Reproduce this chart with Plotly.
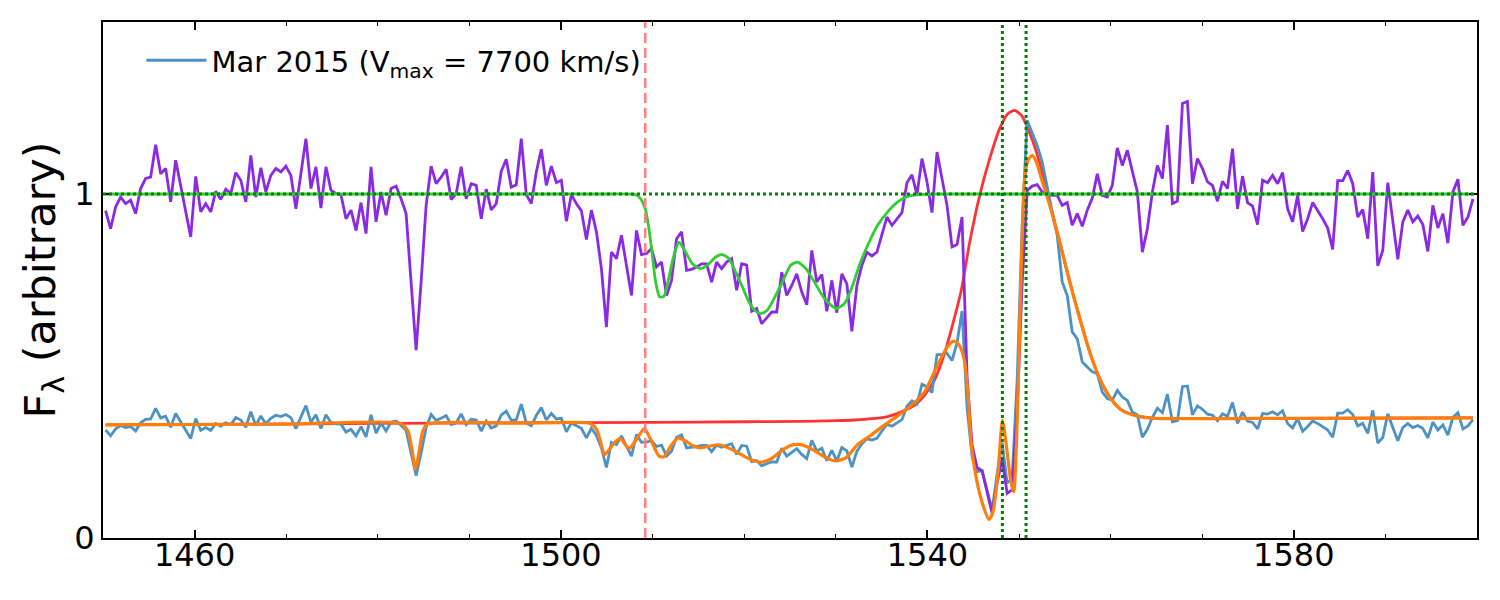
import numpy as np
import plotly.graph_objects as go

# ---------------- data ----------------
WAVE_START = 1450.28   # first wavelength bin (Angstrom)
WAVE_STEP = 0.5468     # bin width (Angstrom)

# observed spectrum (Mar 2015), arbitrary flux units
FLUX_OBS = [
    0.314, 0.297, 0.317, 0.327, 0.321, 0.324, 0.311, 0.335, 0.345, 0.346,
    0.377, 0.349, 0.354, 0.322, 0.362, 0.338, 0.314, 0.289, 0.347, 0.313,
    0.321, 0.313, 0.333, 0.325, 0.335, 0.330, 0.350, 0.343, 0.322, 0.367,
    0.327, 0.355, 0.332, 0.348,
    0.357, 0.353, 0.359, 0.350, 0.318, 0.350, 0.385, 0.337, 0.358, 0.318,
    0.358, 0.336, 0.332, 0.331, 0.308, 0.316, 0.297, 0.324, 0.294, 0.358,
    0.305, 0.334, 0.311, 0.337, 0.340, 0.327, 0.313, 0.247, 0.181, 0.247,
    0.321, 0.359, 0.342, 0.348, 0.356,
    0.330, 0.335, 0.361, 0.330, 0.345, 0.343, 0.311, 0.340, 0.320, 0.326,
    0.357, 0.369, 0.342, 0.344, 0.389, 0.334, 0.326, 0.356, 0.379, 0.343,
    0.362, 0.346, 0.348, 0.309, 0.334, 0.326, 0.319, 0.291, 0.319, 0.298,
    0.262, 0.205, 0.278, 0.272,
    0.297, 0.267, 0.238, 0.301, 0.278, 0.279, 0.283, 0.266, 0.270, 0.238,
    0.252, 0.293, 0.300, 0.262, 0.263, 0.266, 0.269, 0.269, 0.251, 0.270,
    0.264, 0.270, 0.274, 0.243, 0.269, 0.267, 0.222, 0.225, 0.210, 0.216,
    0.221, 0.221, 0.261, 0.238,
    0.249, 0.260, 0.243, 0.231, 0.284, 0.253, 0.261, 0.225, 0.255, 0.224,
    0.263, 0.253, 0.206, 0.252, 0.274, 0.288, 0.285, 0.290, 0.311, 0.330,
    0.325, 0.334, 0.344, 0.383, 0.399, 0.389, 0.447, 0.440, 0.423, 0.533,
    0.533, 0.537, 0.516, 0.567, 0.660,
    0.380, 0.236, 0.193, 0.196, 0.139, 0.081, 0.187, 0.277, 0.160, 0.174,
    0.459, 0.909, 1.214, 1.180, 1.141, 1.093, 1.016, 0.948, 0.880, 0.744,
    0.705, 0.599, 0.579, 0.512, 0.497, 0.483, 0.478, 0.424, 0.405, 0.400,
    0.429, 0.410, 0.400, 0.366,
    0.358, 0.293, 0.316, 0.351, 0.377, 0.364, 0.418, 0.338, 0.341, 0.440,
    0.442, 0.358, 0.384, 0.374, 0.360, 0.357, 0.341, 0.361, 0.354, 0.394,
    0.333, 0.366, 0.339, 0.336, 0.317, 0.362, 0.360, 0.367, 0.358, 0.370,
    0.333, 0.320, 0.347, 0.310,
    0.324, 0.340, 0.333, 0.324, 0.314, 0.293, 0.363, 0.363, 0.373, 0.359,
    0.326, 0.333, 0.304, 0.371, 0.276, 0.292, 0.361, 0.321, 0.283, 0.321,
    0.333, 0.321, 0.327, 0.318, 0.291, 0.337, 0.314, 0.329, 0.299, 0.351,
    0.364, 0.317, 0.326, 0.344,
]

# spectrum normalised by the emission model
FLUX_NORM = [
    0.952, 0.899, 0.962, 0.991, 0.972, 0.982, 0.943, 1.016, 1.045, 1.049,
    1.143, 1.059, 1.074, 0.977, 1.098, 1.025, 0.953, 0.875, 1.051, 0.948,
    0.972, 0.948, 1.008, 0.984, 1.014, 1.001, 1.062, 1.040, 0.977, 1.112,
    0.991, 1.076, 1.006, 1.054,
    1.074, 1.064, 1.081, 1.054, 0.957, 1.054, 1.161, 1.016, 1.079, 0.959,
    1.079, 1.011, 1.001, 0.998, 0.928, 0.953, 0.894, 0.975, 0.885, 1.079,
    0.919, 1.006, 0.938, 1.016, 1.023, 0.986, 0.943, 0.744, 0.546, 0.744,
    0.967, 1.081, 1.030, 1.049, 1.072,
    0.984, 1.001, 1.079, 0.986, 1.030, 1.025, 0.928, 1.014, 0.954, 0.972,
    1.066, 1.101, 1.020, 1.027, 1.161, 0.998, 0.972, 1.064, 1.130, 1.025,
    1.081, 1.033, 1.040, 0.921, 0.998, 0.972, 0.951, 0.868, 0.953, 0.890,
    0.783, 0.613, 0.831, 0.812,
    0.880, 0.793, 0.705, 0.894, 0.824, 0.827, 0.841, 0.788, 0.802, 0.705,
    0.749, 0.870, 0.890, 0.778, 0.781, 0.788, 0.797, 0.797, 0.744, 0.802,
    0.783, 0.802, 0.812, 0.720, 0.797, 0.793, 0.659, 0.667, 0.623, 0.640,
    0.657, 0.657, 0.773, 0.705,
    0.734, 0.768, 0.715, 0.678, 0.836, 0.744, 0.766, 0.659, 0.749, 0.655,
    0.768, 0.739, 0.601, 0.734, 0.793, 0.831, 0.820, 0.831, 0.885, 0.933,
    0.909, 0.928, 0.946, 1.033, 1.056, 0.998, 1.103, 1.035, 0.946, 1.122,
    1.045, 0.967, 0.846, 0.853, 0.933,
    0.470, 0.270, 0.205, 0.195, 0.130, 0.072, 0.160, 0.230, 0.130, 0.140,
    0.370, 0.740, 1.010, 1.023, 1.027, 1.006, 1.001, 0.996, 0.996, 0.967,
    0.975, 0.909, 0.943, 0.906, 0.953, 0.988, 1.059, 0.996, 0.991, 1.025,
    1.134, 1.083, 1.127, 1.069,
    1.006, 0.831, 0.899, 1.006, 1.083, 1.045, 1.200, 0.972, 0.979, 1.263,
    1.269, 1.030, 1.103, 1.074, 1.035, 1.025, 0.979, 1.037, 1.016, 1.132,
    0.957, 1.052, 0.975, 0.965, 0.911, 1.040, 1.033, 1.054, 1.030, 1.062,
    0.957, 0.919, 0.996, 0.891,
    0.928, 0.975, 0.953, 0.928, 0.901, 0.839, 1.039, 1.039, 1.068, 1.030,
    0.933, 0.955, 0.870, 1.064, 0.791, 0.836, 1.033, 0.919, 0.810, 0.919,
    0.953, 0.919, 0.936, 0.911, 0.833, 0.967, 0.901, 0.943, 0.857, 1.006,
    1.043, 0.909, 0.933, 0.986,
]

# emission (continuum + C IV) model
RED_WAVE = [1450.28, 1465, 1480, 1495, 1510, 1520, 1526, 1530, 1532, 1534,
            1535.66, 1537.1, 1538.6, 1539.67, 1540.76, 1541.85, 1542.95, 1543.7, 1544.62, 1545.71,
            1546.8, 1547.89, 1548.8, 1549.53, 1550.26, 1550.98, 1551.9, 1552.62, 1553.35, 1554.44,
            1555.54, 1556.63, 1557.72, 1558.81, 1559.9, 1560.99, 1562.08, 1563.2, 1565.0, 1580.0,
            1599.56]
RED_FLUX = [0.329, 0.331, 0.333, 0.335, 0.336, 0.338, 0.339, 0.341, 0.343, 0.347,
            0.353, 0.366, 0.386, 0.415, 0.458, 0.535, 0.640, 0.720, 0.860, 0.996,
            1.103, 1.190, 1.234, 1.243, 1.229, 1.190, 1.122, 1.054, 0.975, 0.862,
            0.745, 0.639, 0.541, 0.463, 0.410, 0.376, 0.361, 0.353, 0.348, 0.348,
            0.349]

# full model (emission x absorption)
ORANGE_WAVE = [1450.28, 1470, 1482.5, 1483.3, 1483.7, 1484.13, 1484.5, 1484.9, 1485.4, 1495,
               1502.8, 1503.4, 1503.9, 1504.3, 1504.75, 1505.4, 1505.95, 1506.46, 1507.0, 1507.44,
               1508.2, 1509.1, 1509.9, 1510.7, 1511.24, 1512.0, 1512.8, 1513.6, 1514.4, 1515.1,
               1516.0, 1517.25, 1518.5, 1519.4, 1520.16, 1521.0, 1521.7, 1522.4, 1523.1, 1524.0,
               1525.0, 1525.9, 1526.8, 1527.66, 1528.75, 1530.0, 1531.1, 1532.4, 1533.8, 1535.3,
               1536.76, 1538.2, 1539.67, 1540.76, 1541.85, 1542.5, 1542.97, 1543.53, 1544.07, 1544.44,
               1544.8, 1545.35, 1546.07, 1546.73, 1547.16, 1547.71, 1548.19, 1548.62, 1549.06, 1549.42,
               1549.78, 1550.26, 1550.62, 1550.98, 1551.46, 1551.9, 1552.45, 1553.35, 1554.44, 1555.54,
               1556.63, 1557.72, 1558.81, 1559.9, 1560.99, 1562.08, 1563.2, 1565.0, 1580.0, 1599.56]
ORANGE_FLUX = [0.329, 0.331, 0.333, 0.310, 0.262, 0.200, 0.250, 0.310, 0.331, 0.334,
               0.335, 0.330, 0.315, 0.282, 0.242, 0.262, 0.280, 0.290, 0.272, 0.260,
               0.285, 0.318, 0.280, 0.238, 0.236, 0.268, 0.291, 0.282, 0.268, 0.262,
               0.266, 0.271, 0.259, 0.247, 0.235, 0.225, 0.221, 0.224, 0.233, 0.252,
               0.268, 0.272, 0.266, 0.254, 0.236, 0.224, 0.233, 0.272, 0.298, 0.328,
               0.355, 0.384, 0.424, 0.483, 0.541, 0.566, 0.572, 0.558, 0.512, 0.415,
               0.269, 0.172, 0.095, 0.054, 0.076, 0.192, 0.342, 0.269, 0.172, 0.134,
               0.318, 0.802, 1.045, 1.098, 1.112, 1.093, 1.045, 0.967, 0.860, 0.744,
               0.638, 0.541, 0.463, 0.410, 0.376, 0.361, 0.353, 0.348, 0.348, 0.349]

# normalised broad absorption model
GREEN_WAVE = [1450.28, 1505.0, 1508.15, 1508.7, 1509.24, 1509.6, 1509.97, 1510.33, 1510.77, 1511.24,
              1511.79, 1512.33, 1512.88, 1513.61, 1514.34, 1515.25, 1515.98, 1516.89, 1517.62, 1518.34,
              1519.07, 1519.8, 1520.52, 1521.25, 1521.8, 1522.53, 1523.25, 1524.17, 1525.07, 1525.83,
              1526.74, 1527.66, 1528.75, 1530.02, 1530.93, 1531.84, 1532.57, 1533.48, 1534.57, 1535.66,
              1536.76, 1537.85, 1539.3, 1541.0, 1599.56]
GREEN_FLUX = [1.0, 1.0, 0.998, 0.986, 0.953, 0.899, 0.822, 0.744, 0.701, 0.703,
              0.759, 0.822, 0.860, 0.831, 0.797, 0.783, 0.793, 0.817, 0.824, 0.812,
              0.773, 0.730, 0.686, 0.659, 0.652, 0.662, 0.696, 0.744, 0.793, 0.802,
              0.783, 0.744, 0.696, 0.667, 0.681, 0.734, 0.793, 0.851, 0.909, 0.948,
              0.977, 0.993, 0.999, 1.0, 1.0]

CONT_LEVEL = 1.0
CIV_LINES = [1548.19, 1550.77]
VMAX_WAVE = 1509.2
LEGEND_LABEL = "Mar 2015 (V<sub>max</sub> = 7700 km/s)"
X_TICKS = [1460, 1500, 1540, 1580]
Y_TICKS = [0, 1]

# ---------------- figure ----------------
wave = WAVE_START + WAVE_STEP * np.arange(len(FLUX_OBS))
wave_n = WAVE_START + WAVE_STEP * np.arange(len(FLUX_NORM))

fig = go.Figure()
fig.add_trace(go.Scatter(x=RED_WAVE, y=RED_FLUX, mode="lines", showlegend=False,
                         line=dict(color="#ff3333", width=2.8, shape="spline", smoothing=0.6)))
fig.add_trace(go.Scatter(x=wave, y=FLUX_OBS, mode="lines", name=LEGEND_LABEL, showlegend=True,
                         line=dict(color="#4c92c3", width=2.8)))
fig.add_trace(go.Scatter(x=wave_n, y=FLUX_NORM, mode="lines", showlegend=False,
                         line=dict(color="#8a2be2", width=2.8)))
fig.add_trace(go.Scatter(x=ORANGE_WAVE, y=ORANGE_FLUX, mode="lines", showlegend=False,
                         line=dict(color="#ff7f0e", width=3.2, shape="spline", smoothing=0.6)))
fig.add_trace(go.Scatter(x=GREEN_WAVE, y=GREEN_FLUX, mode="lines", showlegend=False,
                         line=dict(color="#32cd32", width=2.8, shape="spline", smoothing=0.6)))

fig.add_hline(y=CONT_LEVEL, line=dict(color="#008000", width=3, dash="3px,3px"), layer="above")
for w in CIV_LINES:
    fig.add_vline(x=w, line=dict(color="#008000", width=3, dash="3px,3px"), layer="above")
fig.add_vline(x=VMAX_WAVE, line=dict(color="#ff8080", width=2.5, dash="10px,5px"), layer="above")

axis_common = dict(showline=True, linecolor="black", linewidth=2, mirror="ticks",
                   ticks="inside", tickcolor="black", tickwidth=1.5, ticklen=8,
                   showgrid=False, zeroline=False,
                   tickfont=dict(family="DejaVu Sans", size=32, color="black"))

fig.update_xaxes(range=[1450, 1600], tickmode="array", tickvals=X_TICKS,
                 minor=dict(ticks="inside", dtick=10, tick0=1450, ticklen=4,
                            tickwidth=1.2, tickcolor="black", showgrid=False),
                 ticklabelstandoff=-12, **axis_common)
fig.update_yaxes(range=[0, 1.5], tickmode="array", tickvals=Y_TICKS,
                 ticklabelstandoff=0, **axis_common)

fig.add_annotation(text="F<sub>λ</sub> (arbitrary)", textangle=-90, showarrow=False,
                   xref="paper", yref="paper", x=-0.044, y=0.5,
                   xanchor="center", yanchor="middle",
                   font=dict(family="DejaVu Sans", size=43, color="black"))

fig.update_layout(
    width=1500, height=600,
    margin=dict(l=103, r=23, t=22, b=62),
    paper_bgcolor="white", plot_bgcolor="white",
    font=dict(family="DejaVu Sans", color="black"),
    showlegend=True,
    legend=dict(x=0.028, y=0.975, xanchor="left", yanchor="top",
                bgcolor="rgba(0,0,0,0)", borderwidth=0,
                font=dict(family="DejaVu Sans", size=29, color="black"),
                itemwidth=60),
)

fig.write_html("out.html")
